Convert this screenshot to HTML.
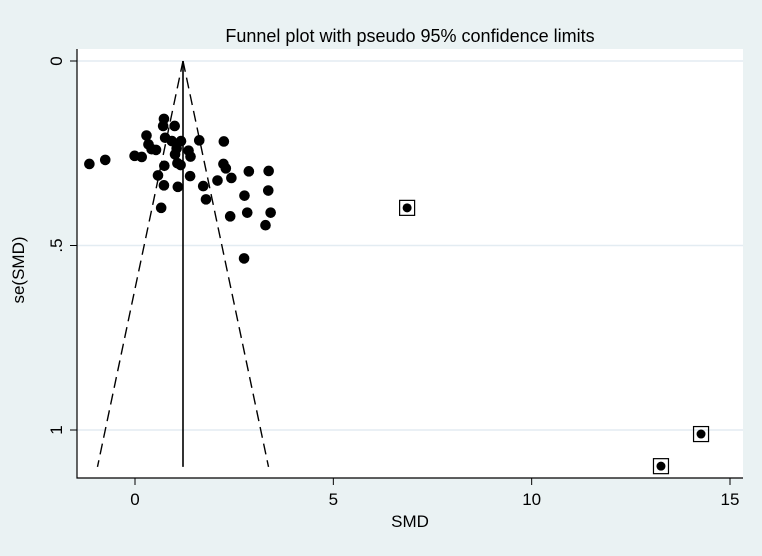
<!DOCTYPE html>
<html><head><meta charset="utf-8"><style>
body{margin:0;background:#eaf2f3;}
svg{display:block;font-family:"Liberation Sans",sans-serif;}
</style></head><body>
<svg id="chart" width="762" height="556">
<rect x="0" y="0" width="762" height="556" fill="#eaf2f3"/>
<rect x="77" y="49" width="666" height="429" fill="#ffffff"/>
<text x="410" y="42" font-size="18" text-anchor="middle" fill="#000">Funnel plot with pseudo 95% confidence limits</text>
<text x="410" y="527" font-size="17" text-anchor="middle">SMD</text>
<text transform="translate(24,270) rotate(-90)" font-size="17" text-anchor="middle">se(SMD)</text>
<g id="grid"></g><g id="axes"></g><g id="funnel"></g><g id="marks"></g>
</svg>
<script>
const xTicks=[0,5,10,15];
const yTicks=[0,0.5,1];
const yTickLabels=["0",".5","1"];
const smd=[-1.15,-0.75,-0.01,0.17,0.29,0.34,0.42,0.53,0.73,0.71,1.00,0.76,0.93,1.16,1.05,1.01,1.07,1.15,0.74,0.58,0.73,1.08,1.35,1.40,1.39,1.62,1.72,1.79,2.08,2.24,2.23,2.29,2.43,2.87,3.37,2.76,3.36,2.83,2.40,3.42,3.29,2.75,0.66,6.86,14.27,13.26];
const seSmd=[0.279,0.268,0.257,0.260,0.202,0.226,0.239,0.241,0.157,0.176,0.176,0.208,0.217,0.217,0.237,0.253,0.277,0.282,0.284,0.310,0.337,0.341,0.243,0.259,0.312,0.215,0.339,0.375,0.324,0.218,0.279,0.291,0.317,0.299,0.298,0.365,0.351,0.411,0.421,0.411,0.445,0.535,0.398,0.398,1.011,1.098];
const outlier=[0,0,0,0,0,0,0,0,0,0,0,0,0,0,0,0,0,0,0,0,0,0,0,0,0,0,0,0,0,0,0,0,0,0,0,0,0,0,0,0,0,0,0,1,1,1];
const pooled=[1.21];
const seMax=[1.1];
const NS="http://www.w3.org/2000/svg";
const X=v=>135+v*(730-135)/15;
const Y=v=>61+v*369;
function mk(t,p,a){const e=document.createElementNS(NS,t);for(const k in a)e.setAttribute(k,a[k]);p.appendChild(e);return e;}
const grid=document.getElementById('grid'),axes=document.getElementById('axes'),fun=document.getElementById('funnel'),marks=document.getElementById('marks');
yTicks.forEach((t,i)=>{
 const g=mk('line',grid,{x1:77,x2:743,y1:Y(t),y2:Y(t),stroke:'#e3ecf2','stroke-width':1.5});
 
 
 const tk=mk('line',axes,{x1:70,x2:77,y1:Y(t),y2:Y(t),stroke:'#000'});
 
 
 const l=mk('text',axes,{transform:`translate(62,${Y(t)}) rotate(-90)`,'font-size':17,'text-anchor':'middle'});
 l.textContent=yTickLabels[i];
 
 
});
xTicks.forEach(t=>{
 const tk=mk('line',axes,{x1:X(t),x2:X(t),y1:478,y2:485,stroke:'#000'});
 
 
 const l=mk('text',axes,{x:X(t),y:505,'font-size':17,'text-anchor':'middle'});
 l.textContent=t;
 
 
});
const ax=mk('path',axes,{d:'M77,49 V478 H743',fill:'none',stroke:'#000','stroke-width':1.2});


const p=pooled[0],sm=seMax[0];
const c=mk('line',fun,{x1:X(p),x2:X(p),y1:Y(0),y2:Y(sm),stroke:'#000','stroke-width':1.6});


[-1,1].forEach(s=>{
 const d=mk('line',fun,{x1:X(p),y1:Y(0),x2:X(p+s*1.96*sm),y2:Y(sm),stroke:'#000','stroke-width':1.4,'stroke-dasharray':'11,6'});
 
 
});
smd.forEach((v,i)=>{
 if(outlier[i]){
  const r=mk('rect',marks,{x:X(v)-7.5,y:Y(seSmd[i])-7.5,width:15,height:15,fill:'none',stroke:'#000','stroke-width':1.2});
  
  
 }
 const d=mk('circle',marks,{cx:X(v),cy:Y(seSmd[i]),r:outlier[i]?4.5:5.3,fill:'#000'});
 
 
});
</script>
</body></html>
